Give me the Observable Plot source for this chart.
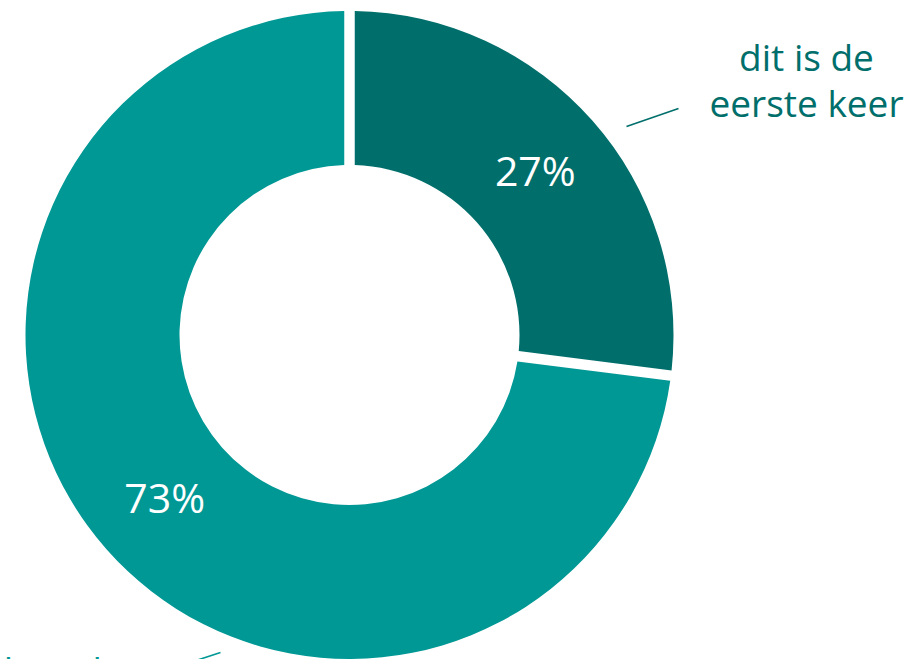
<!DOCTYPE html>
<html><head><meta charset="utf-8">
<script src="https://cdn.jsdelivr.net/npm/d3@7"></script>
<script src="https://cdn.jsdelivr.net/npm/@observablehq/plot@0.6"></script>
<style>html,body{margin:0;padding:0;background:#fff;overflow:hidden}#chart svg{overflow:visible}</style>
</head><body><div id="chart"></div>
<script>
// ---- data ----
const categories = ["dit is de eerste keer", "al eerder meegemaakt"];
const values = [27, 73];
const percentLabels = ["27%", "73%"];
const labelLines = [["dit is de", "eerste keer"], ["al eerder", "meegemaakt"]];
const colors = ["#006f6b", "#009895"];

// ---- layout ----
const W = 921, H = 659;
const cx = 349.5, cy = 335, rOuter = 324, rInner = 170, gap = 10.5;
const labelAnchor = [{x: 806, y: 116}, {x: 60, y: 728.5}];
const leader = [{x1: 626, y1: 126, x2: 678, y2: 108}, {x1: 168, y1: 669, x2: 220, y2: 652}];

const slices = d3.pie().sort(null).value(d => d.value)(
  values.map((v, i) => ({value: v, category: categories[i], label: percentLabels[i], color: colors[i]}))
);
const arc = d3.arc().innerRadius(rInner).outerRadius(rOuter).padRadius(rOuter).padAngle(gap / rOuter);

const pctData = slices.map(s => {
  const c = arc.centroid(s);
  return {x: cx + c[0], y: cy + c[1] + 1, text: s.data.label};
});
const extLabels = categories.map((c, i) => ({x: labelAnchor[i].x, y: labelAnchor[i].y, text: labelLines[i].join("\n"), color: colors[i]}));
const leaders = leader.map((l, i) => ({...l, color: colors[i]}));

function donut(index, scales) {
  const g = d3.create("svg:g")
    .attr("transform", `translate(${scales.x(cx)},${scales.y(cy)})`);
  g.selectAll("path").data(slices).join("path")
    .attr("d", arc)
    .attr("fill", d => d.data.color);
  return g.node();
}

const chart = Plot.plot({
  width: W, height: H,
  margin: 0,
  x: {domain: [0, W], range: [0, W], axis: null},
  y: {domain: [0, H], range: [0, H], axis: null},
  style: {background: "#fff"},
  marks: [
    donut,
    Plot.text(pctData, {x: "x", y: "y", text: "text", fill: "#fff", fontSize: 41, fontFamily: "Open Sans", fontWeight: 400}),
    Plot.text(extLabels, {x: "x", y: "y", text: "text", fill: d => d.color, fontSize: 37, fontFamily: "Open Sans", lineAnchor: "bottom", lineHeight: 1.22, textAnchor: "middle"}),
    Plot.link(leaders, {x1: "x1", y1: "y1", x2: "x2", y2: "y2", stroke: d => d.color, strokeWidth: 1.6})
  ]
});
document.getElementById("chart").appendChild(chart);
</script>
</body></html>
